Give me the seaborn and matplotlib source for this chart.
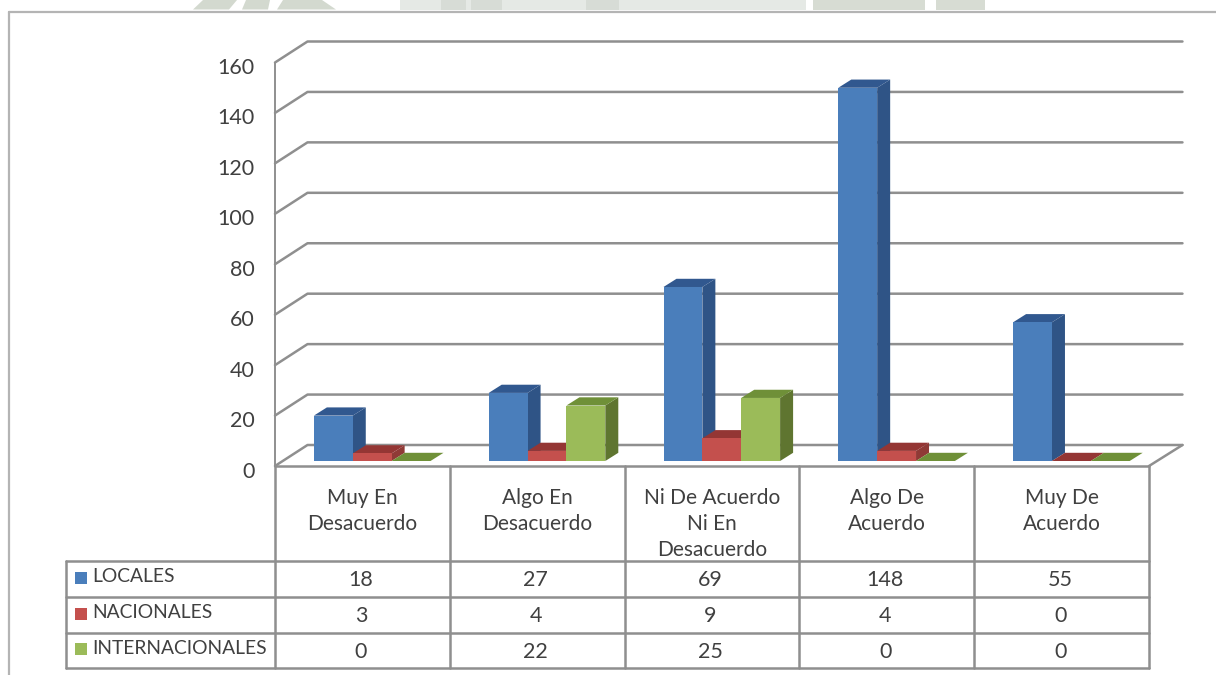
import matplotlib
matplotlib.use("Agg")
import matplotlib.pyplot as plt
import pandas as pd
import seaborn as sns
from matplotlib.patches import Polygon, Rectangle
from matplotlib.transforms import Affine2D

categories = ["Muy En\nDesacuerdo", "Algo En\nDesacuerdo", "Ni De Acuerdo\nNi En\nDesacuerdo",
              "Algo De\nAcuerdo", "Muy De\nAcuerdo"]
series_names = ["LOCALES", "NACIONALES", "INTERNACIONALES"]
locales = [18, 27, 69, 148, 55]
nacionales = [3, 4, 9, 4, 0]
internacionales = [0, 22, 25, 0, 0]
y_ticks = [0, 20, 40, 60, 80, 100, 120, 140, 160]

front_colors = ["#4a7ebb", "#c4504d", "#9bbb59"]
side_colors = ["#2f5486", "#8f3a36", "#5f7530"]
top_colors = ["#31588f", "#943634", "#6f9038"]
line_gray = "#8f8f8f"
text_gray = "#404040"

W, H = 1216, 675
sns.set_theme(style="white")
plt.rcParams["font.family"] = ["Lato", "DejaVu Sans"]

fig = plt.figure(figsize=(W / 100, H / 100), dpi=100, facecolor="white")

# pixel-space layer for the outer frame, data table and backdrop strip
under = fig.add_axes([0, 0, 1, 1], zorder=0)
under.set_xlim(0, W)
under.set_ylim(H, 0)
under.axis("off")

# plot area: the front wall of the 3D box
left, right, bottom, top = 275, 1149, 466, 62.5
ax = fig.add_axes([left / W, 1 - bottom / H, (right - left) / W, (bottom - top) / H], zorder=1)
ax.patch.set_alpha(0)

table = pd.DataFrame({"categoria": categories, "LOCALES": locales,
                      "NACIONALES": nacionales, "INTERNACIONALES": internacionales})
long_table = table.melt(id_vars="categoria", var_name="serie", value_name="valor")
sns.barplot(data=long_table, x="categoria", y="valor", hue="serie", hue_order=series_names,
            palette=dict(zip(series_names, front_colors)), width=0.667, gap=0,
            saturation=1, legend=False, ax=ax, linewidth=0)
ax.set_xlim(-0.5, 4.5)
ax.set_ylim(0, 160)
ax.set_xlabel("")
ax.set_ylabel("")

px_x = (right - left) / 5        # pixels per category
px_y = (bottom - top) / 160      # pixels per unit of value

# box walls: floor depth, and bar depth with their offset inside the box
wall_dx, wall_dy = 32.5 / px_x, 21 / px_y
bar_dx, bar_dy = 13 / px_x, 8.2 / px_y
shift_x, shift_y = 9.8 / px_x, 5 / px_y

wall = dict(color=line_gray, lw=1.8, clip_on=False, zorder=1, solid_capstyle="round")
for tick in y_ticks:
    ax.plot([-0.5, -0.5 + wall_dx, 4.5 + wall_dx * 1.03],
            [tick, tick + wall_dy, tick + wall_dy], **wall)
ax.plot([4.5, 4.5 + wall_dx * 1.03], [0, wall_dy], **wall)

# each bar: side and top faces are derived from the front face seaborn drew
for s, container in enumerate(ax.containers):
    for c, bar in enumerate(container):
        x0 = bar.get_x() + shift_x
        x1 = x0 + bar.get_width()
        y0 = shift_y
        y1 = shift_y + bar.get_height()
        z = 3 + s + c * 5
        bar.set_x(x0)
        bar.set_y(y0)
        bar.set_zorder(z + 0.2)
        bar.set_clip_on(False)
        ax.add_patch(Polygon([(x1, y0), (x1 + bar_dx, y0 + bar_dy), (x1 + bar_dx, y1 + bar_dy), (x1, y1)],
                             closed=True, fc=side_colors[s], ec="none", zorder=z, clip_on=False))
        ax.add_patch(Polygon([(x0, y1), (x0 + bar_dx, y1 + bar_dy), (x1 + bar_dx, y1 + bar_dy), (x1, y1)],
                             closed=True, fc=top_colors[s], ec="none", zorder=z + 0.1, clip_on=False))

sns.despine(ax=ax, top=True, right=True, bottom=True, left=False)
ax.spines["left"].set_color(line_gray)
ax.spines["left"].set_linewidth(1.4)

ax.set_yticks(y_ticks)
ax.tick_params(axis="y", length=0, pad=14.5, labelsize=15.5, labelcolor=text_gray)
for label in ax.get_yticklabels():
    label.set_transform(label.get_transform() + Affine2D().translate(0, -3.5))

ax.set_xticks(range(len(categories)))
ax.set_xticklabels(categories, linespacing=1.36)
ax.tick_params(axis="x", length=0, pad=16, labelsize=15, labelcolor=text_gray)

# data table under the plot
table_rows = [560.5, 596.5, 632.5, 668]
col_edges = [left + i * px_x for i in range(6)]
table_left = 66
grid = dict(color=line_gray, lw=1.8, solid_capstyle="round")
under.plot([left, right], [bottom, bottom], **grid)
for edge in col_edges:
    under.plot([edge, edge], [bottom, table_rows[-1]], **grid)
under.plot([table_left, table_left], [table_rows[0], table_rows[-1]], **grid)
for row in table_rows:
    under.plot([table_left, right], [row, row], **grid)

rows = [locales, nacionales, internacionales]
for r, (name, values) in enumerate(zip(series_names, rows)):
    y_mid = (table_rows[r] + table_rows[r + 1]) / 2
    under.add_patch(Rectangle((75, y_mid - 7), 12, 12, fc=front_colors[r], ec="none"))
    under.text(92.5, y_mid - 1.5, name, ha="left", va="center", fontsize=13.9, color=text_gray)
    for c, value in enumerate(values):
        under.text((col_edges[c] + col_edges[c + 1]) / 2 - 1.5, y_mid + 1.5, str(value),
                   ha="center", va="center", fontsize=15.5, color=text_gray)

# outer frame: top and left edges only
frame = dict(color="#b4b4b4", lw=1.6)
under.plot([9, W], [11.5, 11.5], **frame)
under.plot([9, 9], [11.5, H], **frame)

# pale emblem strip above the frame
under.add_patch(Polygon([(193, 9.5), (203, 0), (237, 0), (229, 9.5)], fc="#d3d9cf", ec="none"))
under.add_patch(Polygon([(242, 9.5), (246, 0), (270, 0), (268, 9.5)], fc="#d3d9cf", ec="none"))
under.add_patch(Polygon([(277, 9.5), (283, 0), (322, 0), (336, 9.5)], fc="#d3d9cf", ec="none"))
strip = [(400, 806, "#e5e9e5"), (441, 466, "#d7dcd6"), (471, 502, "#d7dcd6"),
         (586, 619, "#d7dcd6"), (813, 925, "#d7dcd3"), (936, 985, "#d7dcd3")]
for x0, x1, color in strip:
    under.add_patch(Rectangle((x0, 0), x1 - x0, 9.5, fc=color, ec="none"))

fig.savefig("out.png", dpi=100, facecolor="white")
